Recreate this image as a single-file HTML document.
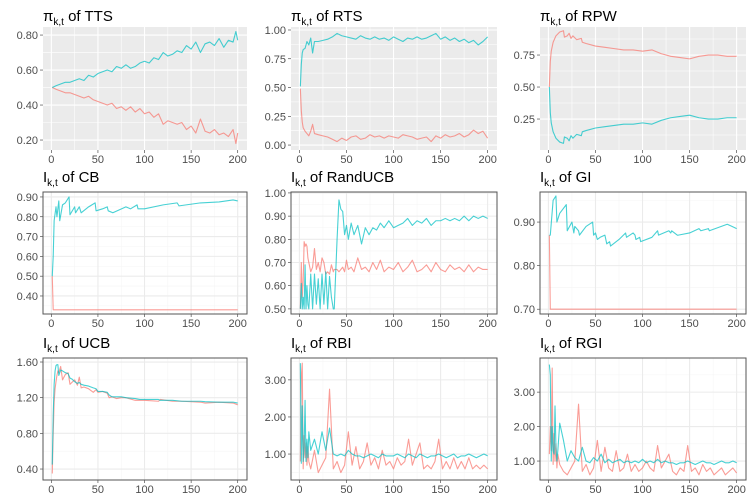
<!DOCTYPE html>
<html><head><meta charset="utf-8">
<style>
html,body{margin:0;padding:0;background:#fff;}
svg{display:block;font-family:"Liberation Sans",sans-serif;}
</style></head>
<body>
<svg id="chart" width="747" height="498" viewBox="0 0 747 498" xmlns="http://www.w3.org/2000/svg"></svg>
<script>
// ---- data ----
const ttsT=[1,5,10,15,20,25,30,35,40,45,50,55,60,65,70,75,80,85,90,95,100,105,110,115,120,125,130,135,140,145,150,155,160,165,170,175,180,185,190,195,198,200];
const ttsTeal=[.50,.51,.52,.53,.53,.54,.55,.54,.57,.56,.58,.59,.60,.59,.62,.61,.63,.61,.62,.64,.65,.64,.67,.66,.70,.68,.69,.71,.70,.74,.72,.76,.70,.75,.76,.74,.78,.73,.77,.76,.82,.77];
const ttsPink=[.50,.49,.48,.47,.47,.46,.45,.44,.45,.43,.42,.41,.40,.41,.38,.39,.37,.39,.36,.38,.35,.36,.33,.35,.29,.31,.30,.29,.30,.26,.28,.24,.32,.25,.24,.26,.23,.24,.22,.26,.18,.24];

const rtsT=[1,2,3,4,6,8,10,12,14,16,20,25,30,35,40,45,50,55,60,65,70,75,80,85,90,95,100,105,110,115,120,125,130,135,140,145,150,155,160,165,170,175,180,185,190,195,200];
const rtsTeal=[.51,.70,.80,.83,.84,.90,.87,.93,.80,.90,.90,.91,.92,.94,.97,.95,.94,.93,.92,.95,.93,.92,.94,.92,.93,.91,.94,.92,.90,.93,.92,.94,.92,.93,.95,.97,.92,.94,.91,.93,.90,.92,.89,.91,.87,.90,.94];
const rtsPink=[.49,.30,.20,.15,.12,.10,.08,.12,.18,.10,.09,.08,.07,.05,.03,.06,.04,.07,.08,.05,.06,.09,.07,.08,.06,.08,.07,.06,.09,.08,.07,.05,.06,.07,.03,.08,.06,.09,.07,.08,.10,.07,.09,.13,.10,.12,.06];

const rpwT=[1,2,3,5,8,12,16,17,20,22,24,26,30,35,36,40,50,60,70,80,90,100,110,120,125,130,140,150,160,170,180,190,200];
const rpwPink=[.50,.70,.78,.85,.90,.93,.94,.89,.90,.92,.88,.90,.87,.88,.85,.84,.82,.81,.80,.79,.79,.78,.79,.76,.75,.74,.73,.72,.74,.75,.75,.74,.74];
const rpwTeal=[.50,.30,.22,.15,.10,.07,.06,.11,.10,.08,.12,.10,.13,.12,.15,.16,.18,.19,.20,.21,.21,.22,.21,.24,.25,.26,.27,.28,.26,.25,.25,.26,.26];

const cbT=[1,2,3,5,6,8,9,12,15,19,20,25,26,30,32,40,47,48,55,60,61,66,80,85,92,93,100,120,135,137,160,180,195,200];
const cbTeal=[.50,.60,.78,.85,.80,.88,.78,.86,.87,.90,.81,.85,.82,.85,.82,.85,.87,.83,.84,.85,.83,.82,.85,.84,.86,.84,.84,.86,.87,.855,.87,.875,.885,.88];
const cbPink=[.50,.33,.33,.33,.33,.33,.33,.33,.33,.33,.33,.33,.33,.33,.33,.33,.33,.33,.33,.33,.33,.33,.33,.33,.33,.33,.33,.33,.33,.33,.33,.33,.33,.33];

const rucbT=[1,2,3,4,5,6,7,8,9,10,12,14,16,18,20,22,24,26,28,30,32,34,36,37,40,42,44,46,48,50,52,55,58,62,66,70,74,78,82,86,90,95,100,105,110,115,120,125,130,135,140,145,150,155,160,165,170,175,180,185,190,195,200];
const rucbTeal=[.50,.61,.50,.55,.50,.69,.50,.60,.52,.50,.65,.50,.65,.52,.63,.50,.65,.52,.66,.50,.64,.55,.50,.50,.80,.97,.93,.92,.82,.86,.80,.87,.82,.86,.78,.85,.82,.85,.84,.87,.85,.88,.85,.86,.87,.89,.86,.88,.87,.89,.86,.88,.88,.89,.88,.89,.88,.90,.88,.90,.89,.90,.89];
const rucbPink=[.50,.70,.55,.62,.79,.77,.78,.77,.72,.70,.66,.68,.76,.67,.70,.66,.72,.70,.65,.66,.65,.69,.66,.67,.67,.66,.67,.68,.66,.71,.67,.68,.66,.72,.67,.68,.66,.70,.67,.71,.66,.68,.67,.70,.66,.68,.71,.66,.67,.69,.66,.70,.67,.66,.69,.67,.68,.66,.69,.66,.68,.67,.67];

const giT=[1,2,5,8,9,12,19,20,25,27,28,32,33,40,47,48,50,52,55,60,62,65,66,75,82,83,90,92,93,97,98,110,116,117,128,130,131,137,138,150,160,162,170,171,190,195,200];
const giTeal=[.87,.87,.95,.96,.90,.92,.94,.88,.90,.875,.89,.88,.87,.89,.90,.87,.875,.86,.865,.87,.85,.855,.845,.86,.875,.865,.875,.87,.86,.865,.855,.865,.88,.87,.88,.875,.88,.87,.87,.875,.885,.88,.885,.88,.895,.89,.885];
const giPinkT=[1,2,200];
const giPink=[.87,.70,.70];

const ucbT=[1,2,3,4,5,6,7,8,10,12,15,18,20,22,25,28,30,32,35,40,45,48,50,55,60,62,65,70,75,80,90,95,100,115,117,130,140,160,165,180,195,200];
const ucbTeal=[.45,1.0,1.35,1.50,1.56,1.57,1.57,1.45,1.51,1.50,1.48,1.47,1.42,1.41,1.38,1.36,1.37,1.35,1.34,1.33,1.31,1.30,1.27,1.27,1.26,1.23,1.21,1.21,1.21,1.20,1.19,1.18,1.18,1.18,1.17,1.17,1.16,1.16,1.155,1.15,1.15,1.14];
const ucbPink=[.35,.80,1.15,1.30,1.38,1.45,1.50,1.48,1.55,1.40,1.46,1.48,1.35,1.37,1.40,1.34,1.43,1.31,1.32,1.30,1.26,1.29,1.26,1.27,1.25,1.20,1.21,1.19,1.20,1.20,1.17,1.17,1.17,1.16,1.18,1.16,1.16,1.15,1.14,1.15,1.14,1.12];

const noisyT=[1,2,3,4,5,6,7,8,9,10,12,16,20,24,28,32,36,40,44,48,52,56,60,64,68,72,76,80,84,88,92,96,100,104,108,112,116,120,124,128,132,136,140,144,148,152,156,160,164,168,172,176,180,184,188,192,196,200];
const rbiPink=[.8,3.1,3.45,.6,1.5,.9,1.3,.7,1.2,.8,.6,1.1,.5,.7,.9,2.75,.6,.8,.5,.7,1.6,.7,1.2,.6,.8,1.3,.7,.9,.6,1.1,.7,.8,.6,.9,.7,.8,1.4,.7,1.0,1.3,.6,.7,.6,.8,1.4,.6,.8,.6,.9,.6,.8,.6,.9,.6,.7,.6,.7,.6];
const rbiTeal=[3.45,.75,2.3,.8,1.2,2.45,.8,1.4,.9,1.6,1.1,1.4,1.0,1.6,1.1,1.7,1.0,.95,1.0,.95,1.1,1.0,.95,.95,.9,.95,1.0,.95,.9,1.0,.95,.95,.95,1.0,.95,.9,1.0,.95,.9,1.0,.95,.9,.95,.95,1.0,.95,.9,.95,1.0,.9,.95,.95,1.0,.95,.9,.95,1.0,.95];
const rgiPink=[1.2,2.0,1.3,3.7,.9,1.8,1.0,1.5,.8,1.2,.9,.7,.6,.8,1.0,2.65,.7,.9,.6,.8,1.6,.7,1.4,.8,.7,1.3,.7,.8,1.2,.7,.9,.7,.8,1.0,.8,.7,1.45,.8,1.0,1.2,.7,.6,.8,.7,1.45,.7,.8,.6,.9,.7,.8,.6,.7,.8,.6,.7,.8,.65];
const rgiTeal=[3.8,3.5,1.0,2.0,1.3,1.2,2.6,1.4,1.0,1.3,2.1,1.6,1.0,1.3,1.1,1.0,1.4,1.0,.95,1.1,1.0,1.2,.95,1.05,.95,1.0,1.05,.95,1.0,.95,1.0,.95,1.05,.95,1.0,.95,1.05,.95,1.0,.95,.95,.9,.95,.95,1.0,.95,.9,.95,1.0,.95,.95,.9,.95,1.0,.95,.95,1.0,.95];

const xTicks=[0,50,100,150,200];
const ticksTTS=[0.20,0.40,0.60,0.80];
const ticksRTS=[0.00,0.25,0.50,0.75,1.00];
const ticksRPW=[0.25,0.50,0.75];
const ticksCB=[0.40,0.50,0.60,0.70,0.80,0.90];
const ticksRUCB=[0.50,0.60,0.70,0.80,0.90,1.00];
const ticksGI=[0.70,0.80,0.90];
const ticksUCB=[0.40,0.80,1.20,1.60];
const ticksRBI=[1.00,2.00,3.00];
const ticksRGI=[1.00,2.00,3.00];

// ---- drawing ----
const NS="http://www.w3.org/2000/svg";
const svg=document.getElementById('chart');
const TEAL="#00BFC4", PINK="#F8766D";
function mk(tag,attrs,parent){const e=document.createElementNS(NS,tag);for(const k in attrs)e.setAttribute(k,attrs[k]);(parent||svg).appendChild(e);return e;}
let clipId=0;
function panel(p){
  const g=mk('g',{});
  
  
  const xs=v=>p.x0+(v-(-8.95))/(209.95-(-8.95))*(p.x1-p.x0);
  const ys=v=>p.y1-(v-p.ymin)/(p.ymax-p.ymin)*(p.y1-p.y0);
  const grey=p.grey;
  const bg=mk('rect',{x:p.x0,y:p.y0,width:p.x1-p.x0,height:p.y1-p.y0,fill:grey?'#EBEBEB':'#fff'},g);
  
  
  const majC=grey?'#fff':'#EBEBEB', minC='#F5F5F5';
  for(let i=0;i<xTicks.length-1;i++){const m=(xTicks[i]+xTicks[i+1])/2;const X=xs(m);
    const l=mk('line',{x1:X,x2:X,y1:p.y0,y2:p.y1,stroke:grey?'#fff':minC,'stroke-width':0.55},g);
    }
  const yt=p.ticks; const step=yt.length>1?yt[1]-yt[0]:0.1;
  const minors=[yt[0]-step/2].concat(yt.map(v=>v+step/2));
  minors.forEach(m=>{if(m<p.ymin||m>p.ymax)return;const Y=ys(m);
    const l=mk('line',{x1:p.x0,x2:p.x1,y1:Y,y2:Y,stroke:grey?'#fff':minC,'stroke-width':0.55},g);
    });
  xTicks.forEach(v=>{const X=xs(v);
    const l=mk('line',{x1:X,x2:X,y1:p.y0,y2:p.y1,stroke:majC,'stroke-width':1.1},g);
    
    const tk=mk('line',{x1:X,x2:X,y1:p.y1,y2:p.y1+3,stroke:'#333','stroke-width':0.6},g);
    
    const t=mk('text',{x:X,y:p.y1+13,'text-anchor':'middle','font-size':11,fill:'#4D4D4D'},g);t.textContent=String(v);
    });
  yt.forEach(v=>{const Y=ys(v);
    const l=mk('line',{x1:p.x0,x2:p.x1,y1:Y,y2:Y,stroke:majC,'stroke-width':1.1},g);
    
    const tk=mk('line',{x1:p.x0-3,x2:p.x0,y1:Y,y2:Y,stroke:'#333','stroke-width':0.6},g);
    
    const t=mk('text',{x:p.x0-5,y:Y+4,'text-anchor':'end','font-size':11,fill:'#4D4D4D'},g);t.textContent=v.toFixed(2);
    });
  const cid='clip'+(clipId++);
  const cp=mk('clipPath',{id:cid},g);mk('rect',{x:p.x0,y:p.y0,width:p.x1-p.x0,height:p.y1-p.y0},cp);
  p.series.forEach(s=>{
    const n=Math.min(s.t.length,s.v.length);let d='';
    for(let i=0;i<n;i++)d+=(i?'L':'M')+xs(s.t[i]).toFixed(2)+','+ys(s.v[i]).toFixed(2);
    const path=mk('path',{d:d,fill:'none',stroke:s.c,'stroke-width':1.1,'stroke-opacity':0.72,'clip-path':'url(#'+cid+')','stroke-linejoin':'round'},g);
    
    
  });
  if(!grey){const b=mk('rect',{x:p.x0,y:p.y0,width:p.x1-p.x0,height:p.y1-p.y0,fill:'none',stroke:'#555','stroke-width':1},g);
    }
  const title=mk('text',{x:p.x0,y:p.y0-(grey?6:10),'font-size':15,fill:'#000'},g);
  
  const a=mk('tspan',{},title);a.textContent=p.sym;
  const b2=mk('tspan',{'font-size':10,dy:4},title);b2.textContent='k,t';
  const c=mk('tspan',{dy:-4},title);c.textContent=' of '+p.label;
}
const C1=[43,247],C2=[291,497],C3=[540,746];
const R1=[27,150],R2=[192,314],R3=[358,480];
panel({name:'tts',sym:'π',label:'TTS',grey:true,x0:C1[0],x1:C1[1],y0:R1[0],y1:R1[1],ymin:0.143,ymax:0.846,ticks:ticksTTS,series:[{n:'arm1',t:ttsT,v:ttsPink,c:PINK},{n:'arm2',t:ttsT,v:ttsTeal,c:TEAL}]});
panel({name:'rts',sym:'π',label:'RTS',grey:true,x0:C2[0],x1:C2[1],y0:R1[0],y1:R1[1],ymin:-0.043,ymax:1.026,ticks:ticksRTS,series:[{n:'arm1',t:rtsT,v:rtsPink,c:PINK},{n:'arm2',t:rtsT,v:rtsTeal,c:TEAL}]});
panel({name:'rpw',sym:'π',label:'RPW',grey:true,x0:C3[0],x1:C3[1],y0:R1[0],y1:R1[1],ymin:0.008,ymax:0.969,ticks:ticksRPW,series:[{n:'arm1',t:rpwT,v:rpwPink,c:PINK},{n:'arm2',t:rpwT,v:rpwTeal,c:TEAL}]});
panel({name:'cb',sym:'I',label:'CB',grey:false,x0:C1[0],x1:C1[1],y0:R2[0],y1:R2[1],ymin:0.309,ymax:0.925,ticks:ticksCB,series:[{n:'arm1',t:cbT,v:cbPink,c:PINK},{n:'arm2',t:cbT,v:cbTeal,c:TEAL}]});
panel({name:'randucb',sym:'I',label:'RandUCB',grey:false,x0:C2[0],x1:C2[1],y0:R2[0],y1:R2[1],ymin:0.478,ymax:1.004,ticks:ticksRUCB,series:[{n:'arm1',t:rucbT,v:rucbPink,c:PINK},{n:'arm2',t:rucbT,v:rucbTeal,c:TEAL}]});
panel({name:'gi',sym:'I',label:'GI',grey:false,x0:C3[0],x1:C3[1],y0:R2[0],y1:R2[1],ymin:0.689,ymax:0.969,ticks:ticksGI,series:[{n:'arm1',t:giPinkT,v:giPink,c:PINK},{n:'arm2',t:giT,v:giTeal,c:TEAL}]});
panel({name:'ucb',sym:'I',label:'UCB',grey:false,x0:C1[0],x1:C1[1],y0:R3[0],y1:R3[1],ymin:0.277,ymax:1.645,ticks:ticksUCB,series:[{n:'arm1',t:ucbT,v:ucbPink,c:PINK},{n:'arm2',t:ucbT,v:ucbTeal,c:TEAL}]});
panel({name:'rbi',sym:'I',label:'RBI',grey:false,x0:C2[0],x1:C2[1],y0:R3[0],y1:R3[1],ymin:0.30,ymax:3.59,ticks:ticksRBI,series:[{n:'arm1',t:noisyT,v:rbiPink,c:PINK},{n:'arm2',t:noisyT,v:rbiTeal,c:TEAL}]});
panel({name:'rgi',sym:'I',label:'RGI',grey:false,x0:C3[0],x1:C3[1],y0:R3[0],y1:R3[1],ymin:0.45,ymax:3.99,ticks:ticksRGI,series:[{n:'arm1',t:noisyT,v:rgiPink,c:PINK},{n:'arm2',t:noisyT,v:rgiTeal,c:TEAL}]});
</script>
</body></html>
